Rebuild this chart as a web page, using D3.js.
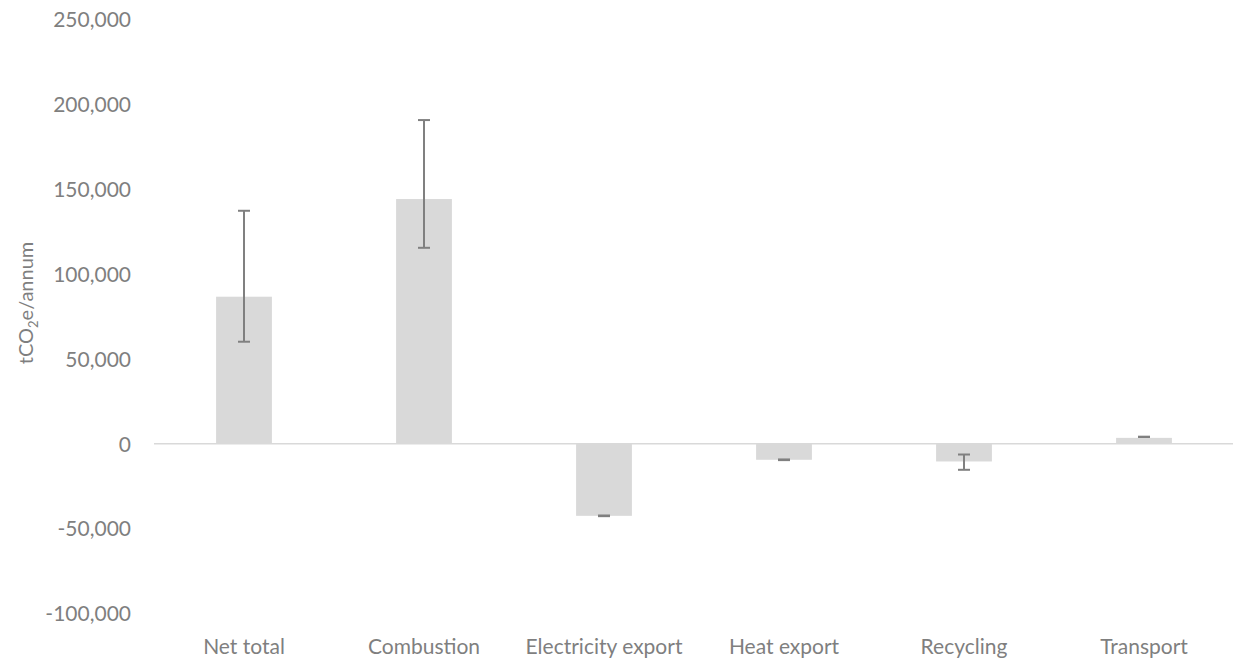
<!DOCTYPE html>
<html>
<head>
<meta charset="utf-8">
<script src="https://cdn.jsdelivr.net/npm/d3@7"></script>
<style>
  html, body { margin: 0; padding: 0; background: #fff; }
  svg text { font-family: Lato, "Open Sans", sans-serif; fill: #7f7f7f; }
</style>
</head>
<body>
<svg id="chart" width="1233" height="660"></svg>
<script>
// Annual emissions by source (tCO2e/annum)
const categories = ["Net total", "Combustion", "Electricity export", "Heat export", "Recycling", "Transport"];
const values     = [86500, 144000, -42500, -9500, -10500, 3400];
const errLow     = [60000, 115300, -42700, -9700, -15400, 3900];
const errHigh    = [137100, 190500, -42300, -9300, -6400, 4100];
const yTicks     = [-100000, -50000, 0, 50000, 100000, 150000, 200000, 250000];

const svg = d3.select("#chart");
const plot = { left: 154, right: 1234, top: 19, bottom: 613.5 };

const x = d3.scaleBand()
  .domain(categories)
  .range([plot.left, plot.right])
  .paddingInner(0.69)
  .paddingOuter(0.345);

const y = d3.scaleLinear()
  .domain([-100000, 250000])
  .range([plot.bottom, plot.top]);

// thousands separator, plain hyphen for negatives
const fmt = v => d3.format(",")(v).replace("\u2212", "-");

// Value axis labels
const yAxis = d3.axisLeft(y)
  .tickValues(yTicks)
  .tickFormat(fmt)
  .tickSize(0)
  .tickPadding(0);
const yg = svg.append("g")
  .attr("transform", `translate(${plot.left - 23},0)`)
  .call(yAxis);
yg.select(".domain").remove();
yg.selectAll("text")
  .attr("font-size", 21)
  .attr("dy", "0.35em")
  .style("fill", "#7f7f7f");

// Bars
svg.append("g")
  .selectAll("rect")
  .data(categories)
  .join("rect")
  .attr("x", d => x(d))
  .attr("width", x.bandwidth())
  .attr("y", (d, i) => y(Math.max(0, values[i])))
  .attr("height", (d, i) => Math.abs(y(values[i]) - y(0)))
  .attr("fill", "#d9d9d9");

// Zero baseline
svg.append("line")
  .attr("x1", plot.left).attr("x2", plot.right)
  .attr("y1", y(0)).attr("y2", y(0))
  .attr("stroke", "#d9d9d9")
  .attr("stroke-width", 1.5);

// Error bars
const eg = svg.append("g")
  .attr("stroke", "#808080")
  .attr("stroke-width", 2)
  .attr("fill", "none");
const capW = 6;
categories.forEach((c, i) => {
  const cx = x(c) + x.bandwidth() / 2;
  const yl = y(errLow[i]), yh = y(errHigh[i]);
  eg.append("line").attr("x1", cx).attr("x2", cx).attr("y1", yl).attr("y2", yh);
  eg.append("line").attr("x1", cx - capW).attr("x2", cx + capW).attr("y1", yl).attr("y2", yl);
  eg.append("line").attr("x1", cx - capW).attr("x2", cx + capW).attr("y1", yh).attr("y2", yh);
});

// Category labels
const xAxis = d3.axisBottom(x).tickSize(0).tickPadding(0);
const xg = svg.append("g")
  .attr("transform", `translate(0,${plot.bottom + 40})`)
  .call(xAxis);
xg.select(".domain").remove();
xg.selectAll("text")
  .attr("font-size", 21)
  .attr("dy", 0)
  .style("fill", "#7f7f7f");

// Axis title
const title = svg.append("text")
  .attr("transform", "translate(33,303) rotate(-90)")
  .attr("text-anchor", "middle")
  .attr("font-size", 20);
title.append("tspan").text("tCO");
title.append("tspan").attr("font-size", 13).attr("dy", 5).text("2");
title.append("tspan").attr("dy", -5).text("e/annum");
</script>
</body>
</html>
